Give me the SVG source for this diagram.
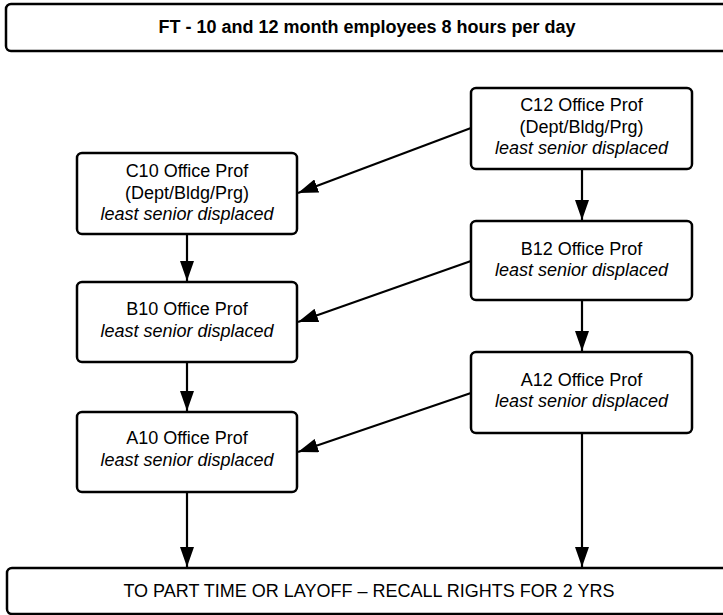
<svg xmlns="http://www.w3.org/2000/svg" width="723" height="615" viewBox="0 0 723 615">
<style>
.box{fill:#fff;stroke:#000;stroke-width:2.5}
.t{font-family:"Liberation Sans",Arial,sans-serif;font-size:18px;text-anchor:middle;fill:#000}
.i{font-style:italic}
.b{font-weight:bold;font-size:18px}
.c{fill:none;stroke:#000;stroke-width:2.2}
</style>
<defs>
<marker id="ah2" viewBox="0 0 20 14" refX="20" refY="7" markerWidth="20" markerHeight="14" markerUnits="userSpaceOnUse" orient="auto">
<path d="M0,0 L20,7 L0,14 z" fill="#000"/>
</marker>
</defs>
<rect width="723" height="615" fill="#fff"/>
<g id="connectors">
<path class="c" d="M471,128 L298,193" marker-end="url(#ah2)"/>
<path class="c" d="M471,261 L298,322" marker-end="url(#ah2)"/>
<path class="c" d="M471,393 L298,452" marker-end="url(#ah2)"/>
<path class="c" d="M187,235 L187,281" marker-end="url(#ah2)"/>
<path class="c" d="M187,363 L187,411" marker-end="url(#ah2)"/>
<path class="c" d="M187,493 L187,567" marker-end="url(#ah2)"/>
<path class="c" d="M582,170 L582,220" marker-end="url(#ah2)"/>
<path class="c" d="M582,301 L582,351" marker-end="url(#ah2)"/>
<path class="c" d="M582,434 L582,567" marker-end="url(#ah2)"/>
</g>
<g id="top">
<rect class="box" x="6" y="4" width="730" height="47" rx="5"/>
<text class="t b" x="367" y="33">FT - 10 and 12 month employees 8 hours per day</text>
</g>
<g id="c12">
<rect class="box" x="471" y="88" width="221" height="81" rx="5"/>
<text class="t" x="581.5" y="111">C12 Office Prof</text>
<text class="t" x="581.5" y="133">(Dept/Bldg/Prg)</text>
<text class="t i" x="581.5" y="154">least senior displaced</text>
</g>
<g id="c10">
<rect class="box" x="77" y="153" width="220" height="81" rx="5"/>
<text class="t" x="187" y="177">C10 Office Prof</text>
<text class="t" x="187" y="199">(Dept/Bldg/Prg)</text>
<text class="t i" x="187" y="220">least senior displaced</text>
</g>
<g id="b12">
<rect class="box" x="471" y="221" width="221" height="79" rx="5"/>
<text class="t" x="581.5" y="255">B12 Office Prof</text>
<text class="t i" x="581.5" y="276">least senior displaced</text>
</g>
<g id="b10">
<rect class="box" x="77" y="282" width="220" height="80" rx="5"/>
<text class="t" x="187" y="315">B10 Office Prof</text>
<text class="t i" x="187" y="337">least senior displaced</text>
</g>
<g id="a12">
<rect class="box" x="471" y="352" width="221" height="81" rx="5"/>
<text class="t" x="581.5" y="386">A12 Office Prof</text>
<text class="t i" x="581.5" y="407">least senior displaced</text>
</g>
<g id="a10">
<rect class="box" x="77" y="412" width="220" height="80" rx="5"/>
<text class="t" x="187" y="444">A10 Office Prof</text>
<text class="t i" x="187" y="466">least senior displaced</text>
</g>
<g id="bottom">
<rect class="box" x="7" y="568" width="730" height="46" rx="5"/>
<text class="t" x="369" y="597">TO PART TIME OR LAYOFF – RECALL RIGHTS FOR 2 YRS</text>
</g>
</svg>
